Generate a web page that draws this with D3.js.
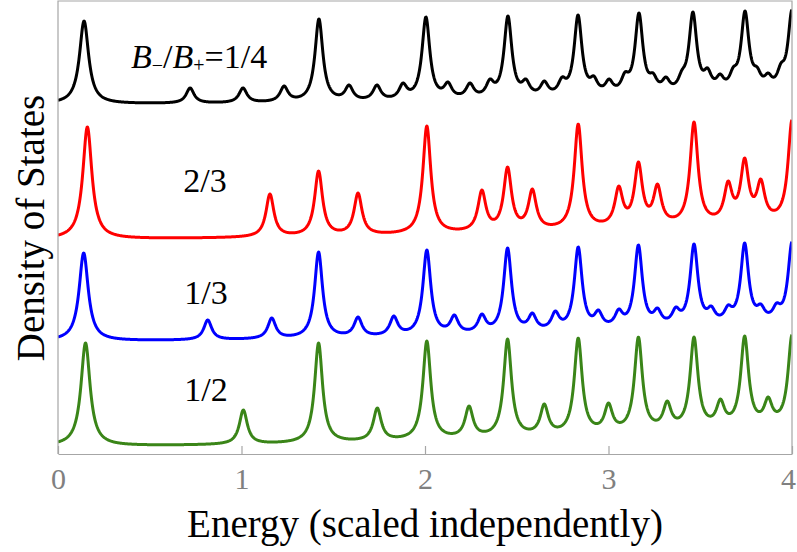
<!DOCTYPE html>
<html><head><meta charset="utf-8">
<script src="https://cdn.jsdelivr.net/npm/d3@7"></script>
<style>html,body{margin:0;padding:0;background:#fff;}svg{display:block;}</style>
</head><body>
<svg id="chart" width="797" height="552"></svg>
<script>
// ---------------- data ----------------
const energyTicks = [0, 1, 2, 3, 4];
const seriesLabels = ["1/4", "2/3", "1/3", "1/2"];
const seriesColors = ["#000000", "#ff0000", "#0000ff", "#3a8518"];
const seriesOffsets = [3.42, 2.07, 1.05, 0];       // vertical offsets of the stacked curves
const backgroundK = [0.005, 0.01, 0.01, 0.012];    // smooth rising background (coefficient of E^2)

// peak energies and peak heights (above each curve's baseline)
const peakE_14 = [0.142,0.72,1.008,1.232,1.422,1.586,1.738,1.88,2.005,2.125,2.245,2.354,2.452,2.55,2.65,2.747,2.834,2.92,3.003,3.09,3.166,3.243,3.313,3.40,3.46,3.54,3.608,3.68,3.744,3.81,3.87,3.94,4.0];
const peakH_14 = [0.83,0.16,0.16,0.18,0.85,0.19,0.19,0.21,0.87,0.22,0.21,0.25,0.88,0.25,0.23,0.27,0.89,0.28,0.25,0.32,0.91,0.31,0.27,0.34,0.92,0.36,0.30,0.37,0.93,0.37,0.31,0.41,0.94];

const peakE_23 = [0.16,1.155,1.42,1.635,2.01,2.31,2.45,2.585,2.835,3.056,3.163,3.267,3.466,3.652,3.742,3.83,4.0];
const peakH_23 = [1.12,0.45,0.68,0.46,1.13,0.49,0.72,0.50,1.15,0.53,0.77,0.55,1.17,0.58,0.81,0.60,1.19];

const peakE_13 = [0.14,0.816,1.165,1.42,1.635,1.83,2.01,2.16,2.31,2.45,2.585,2.71,2.835,2.945,3.056,3.163,3.267,3.367,3.466,3.56,3.652,3.742,3.83,3.916,4.0];
const peakH_13 = [0.88,0.21,0.23,0.89,0.24,0.25,0.91,0.26,0.27,0.93,0.28,0.30,0.94,0.31,0.32,0.96,0.33,0.34,0.97,0.35,0.36,0.98,0.37,0.38,0.99];

const peakE_12 = [0.15,1.01,1.42,1.74,2.01,2.24,2.45,2.65,2.835,3.0,3.163,3.32,3.466,3.61,3.742,3.87,4.0];
const peakH_12 = [1.03,0.36,1.03,0.38,1.05,0.40,1.07,0.42,1.08,0.43,1.09,0.45,1.09,0.47,1.10,0.49,1.11];

const peakWidth = 0.026;       // Lorentzian half width
const firstPeakWidth = 0.030;

const seriesPeaks = [
  {E: peakE_14, H: peakH_14},
  {E: peakE_23, H: peakH_23},
  {E: peakE_13, H: peakH_13},
  {E: peakE_12, H: peakH_12}
];

// ---------------- drawing ----------------
const svg = d3.select("#chart");
const L = 58, R = 792, T = 1, B = 454;
const x = d3.scaleLinear().domain([0, 4]).range([L, R]);
const y = d3.scaleLinear().domain([-0.08, 4.46]).range([B, 0]);

svg.append("defs").append("clipPath").attr("id", "plotclip")
  .append("rect").attr("x", L).attr("y", T).attr("width", R - L).attr("height", B - T);

function lorentz(e, c, g) { return g * g / ((e - c) * (e - c) + g * g); }

function amplitudes(E, H, k) {
  const gs = E.map((e, i) => i === 0 ? firstPeakWidth : peakWidth);
  let a = H.map((h, j) => h - k * E[j] * E[j]);
  for (let it = 0; it < 300; it++) {
    a = E.map((ej, j) => {
      let s = 0;
      for (let i = 0; i < E.length; i++) if (i !== j) s += a[i] * lorentz(ej, E[i], gs[i]);
      return Math.max(0, H[j] - k * ej * ej - s);
    });
  }
  return {a, gs};
}

const grid = d3.range(0, 4.0005, 0.002);
const line = d3.line().x(d => x(d[0])).y(d => y(d[1]));

const gCurves = svg.append("g").attr("clip-path", "url(#plotclip)");
seriesPeaks.forEach((s, si) => {
  const {a, gs} = amplitudes(s.E, s.H, backgroundK[si]);
  const pts = grid.map(e => {
    let v = backgroundK[si] * e * e;
    for (let i = 0; i < s.E.length; i++) v += a[i] * lorentz(e, s.E[i], gs[i]);
    return [e, v + seriesOffsets[si]];
  });
  gCurves.append("path").attr("d", line(pts))
    .attr("fill", "none").attr("stroke", seriesColors[si])
    .attr("stroke-width", 3).attr("stroke-linejoin", "round");
});

// frame
const frameColor = "#a6a6a6";
svg.append("path").attr("d", `M${L},${B}V${T}H${R}V${B}`).attr("fill", "none")
  .attr("stroke", frameColor).attr("stroke-width", 1.2);

// bottom axis
const ax = svg.append("g").attr("transform", `translate(0,${B})`)
  .call(d3.axisBottom(x).tickValues(energyTicks).tickFormat(d3.format("d"))
    .tickSizeInner(-8).tickSizeOuter(0).tickPadding(14));
ax.select(".domain").attr("stroke", frameColor).attr("stroke-width", 1.2);
ax.selectAll(".tick line").attr("stroke", frameColor).attr("stroke-width", 1.2);
ax.selectAll(".tick text").attr("fill", "#808080")
  .style("font-family", "'Liberation Serif', serif").style("font-size", "30px")
  .attr("dx", d => d === energyTicks[energyTicks.length - 1] ? -4 : 0);

// axis titles
svg.append("text").attr("x", 425).attr("y", 537).attr("text-anchor", "middle")
  .style("font-family", "'Liberation Serif', serif").style("font-size", "39px")
  .text("Energy (scaled independently)");
svg.append("text").attr("transform", "translate(44,228) rotate(-90)").attr("text-anchor", "middle")
  .style("font-family", "'Liberation Serif', serif").style("font-size", "39px")
  .text("Density of States");

// curve labels
const labelFont = "'Liberation Serif', serif";
const lab0 = svg.append("text").attr("x", 131).attr("y", 68)
  .style("font-family", labelFont).style("font-size", "34px");
lab0.append("tspan").style("font-style", "italic").text("B");
lab0.append("tspan").style("font-size", "20px").attr("dy", 4).text("\u2212");
lab0.append("tspan").attr("dy", -4).text("/");
lab0.append("tspan").style("font-style", "italic").text("B");
lab0.append("tspan").style("font-size", "20px").attr("dy", 4).text("+");
lab0.append("tspan").attr("dy", -4).text("=" + seriesLabels[0]);

const labelPos = [null, [205, 192], [206, 304], [206, 401]];
[1, 2, 3].forEach(i => {
  svg.append("text").attr("x", labelPos[i][0]).attr("y", labelPos[i][1]).attr("text-anchor", "middle")
    .style("font-family", labelFont).style("font-size", "34px").text(seriesLabels[i]);
});
</script>
</body></html>
